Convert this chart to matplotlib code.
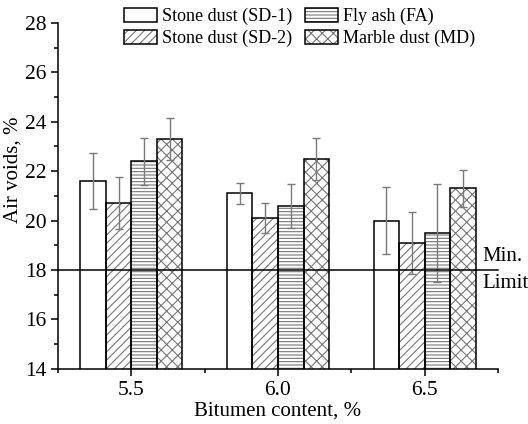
import numpy as np
import matplotlib
matplotlib.use("Agg")
import matplotlib.pyplot as plt
from matplotlib.patches import Patch
from matplotlib.ticker import MultipleLocator

# data
bitumen = [5.5, 6.0, 6.5]
labels = ["Stone dust (SD-1)", "Stone dust (SD-2)", "Fly ash (FA)", "Marble dust (MD)"]
hatches = ["", "////", "-----", "xxx"]
air_voids = [
    [21.6, 21.1, 20.0],   # SD-1
    [20.7, 20.1, 19.1],   # SD-2
    [22.4, 20.6, 19.5],   # FA
    [23.3, 22.5, 21.3],   # MD
]
errors = [
    [1.15, 0.42, 1.36],
    [1.05, 0.60, 1.26],
    [0.95, 0.90, 1.97],
    [0.85, 0.85, 0.75],
]
min_limit = 18.0


def main():
    plt.rcParams["font.family"] = ["Liberation Serif", "DejaVu Serif"]
    plt.rcParams["hatch.linewidth"] = 0.8

    fig = plt.figure(figsize=(5.28, 4.24), dpi=100)
    ax = fig.add_axes([0.110, 0.130, 0.833, 0.816])

    width = 0.087
    x = np.array(bitumen)
    handles = []
    for i, (vals, err, h) in enumerate(zip(air_voids, errors, hatches)):
        pos = x + (i - 1.5) * width
        # hatch drawn in grey, outline drawn separately in black
        ax.bar(pos, vals, width, facecolor="white", edgecolor="#777777",
               hatch=h, linewidth=0, zorder=2)
        ax.bar(pos, vals, width, facecolor="none", edgecolor="black",
               linewidth=1.1, zorder=3)
        ax.errorbar(pos, vals, yerr=err, fmt="none", ecolor="#7a7a7a",
                    elinewidth=1.0, capsize=3, capthick=1.0, zorder=4)
        handles.append((Patch(facecolor="white", edgecolor="#777777", hatch=h, linewidth=0),
                        Patch(facecolor="none", edgecolor="black", linewidth=1.1)))

    ax.axhline(min_limit, color="black", linewidth=1.1, zorder=5, clip_on=False)
    ax.text(6.697, min_limit + 0.15, "Min.", fontsize=15, ha="left", va="bottom",
            clip_on=False)
    ax.text(6.697, min_limit - 0.15, "Limit", fontsize=15, ha="left", va="top",
            clip_on=False)

    ax.set_xlim(5.25, 6.75)
    ax.set_ylim(14, 28)
    ax.set_xticks(bitumen)
    ax.set_xticklabels(["5.5", "6.0", "6.5"])
    ax.xaxis.set_minor_locator(MultipleLocator(0.25))
    ax.yaxis.set_major_locator(MultipleLocator(2))
    ax.yaxis.set_minor_locator(MultipleLocator(1))

    for s in ["top", "right"]:
        ax.spines[s].set_visible(False)
    for s in ["left", "bottom"]:
        ax.spines[s].set_linewidth(1.1)
    ax.tick_params(which="major", direction="out", length=5, width=1.1, labelsize=15.5)
    ax.tick_params(which="minor", direction="out", length=3, width=1.1)

    ax.set_xlabel("Bitumen content, %", fontsize=15, labelpad=1)
    ax.set_ylabel("Air voids, %", fontsize=15)
    ax.yaxis.set_label_coords(-0.08, 0.575)

    fig.legend(handles, labels, ncol=2, loc="upper center",
               bbox_to_anchor=(0.568, 0.99), frameon=False, fontsize=13,
               handlelength=1.8, handleheight=0.85, handletextpad=0.3,
               columnspacing=0.7, labelspacing=0.25, borderpad=0.1,
               borderaxespad=0.1)

    fig.savefig("out.png", dpi=100)


if __name__ == "__main__":
    main()
